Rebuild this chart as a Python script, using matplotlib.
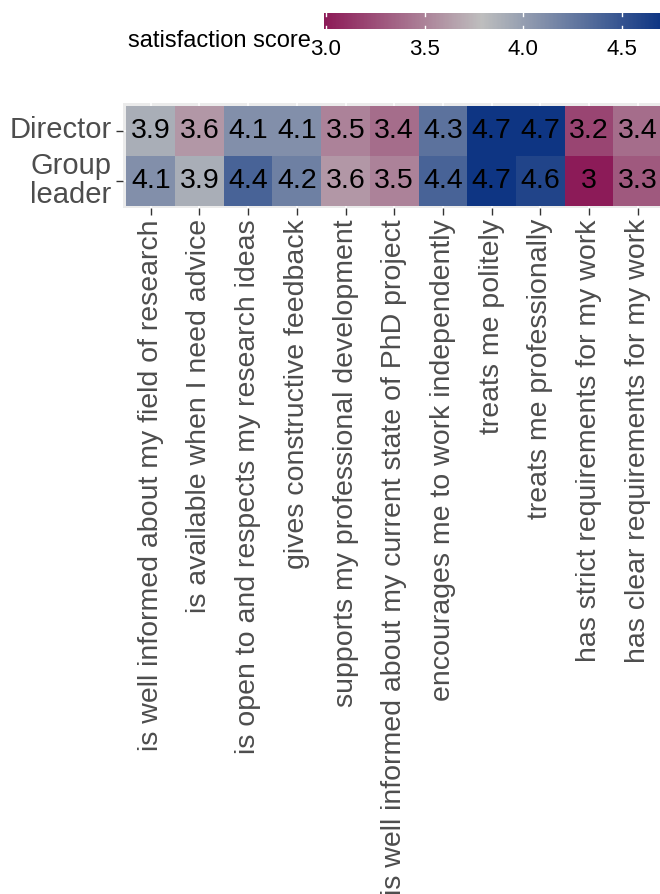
import numpy as np
import matplotlib.pyplot as plt
from matplotlib.colors import LinearSegmentedColormap, Normalize

plt.rcParams['font.family'] = ['Liberation Sans', 'DejaVu Sans']

statements = [
    "is well informed about my field of research",
    "is available when I need advice",
    "is open to and respects my research ideas",
    "gives constructive feedback",
    "supports my professional development",
    "is well informed about my current state of PhD project",
    "encourages me to work independently",
    "treats me politely",
    "treats me professionally",
    "has strict requirements for my work",
    "has clear requirements for my work",
]
roles = ["Director", "Group\nleader"]
director = [3.9, 3.6, 4.1, 4.1, 3.5, 3.4, 4.3, 4.7, 4.7, 3.2, 3.4]
group_leader = [4.1, 3.9, 4.4, 4.2, 3.6, 3.5, 4.4, 4.7, 4.6, 3.0, 3.3]
cbar_ticks = [3.0, 3.5, 4.0, 4.5]

vmin, vmid, vmax = 2.99, 3.79, 4.72
low, mid, high = "#8C1A57", "#BEBEBE", "#0B3382"

scores = np.array([director, group_leader])
f = (vmid - vmin) / (vmax - vmin)
cmap = LinearSegmentedColormap.from_list("sat", [(0, low), (f, mid), (1, high)])
norm = Normalize(vmin=vmin, vmax=vmax)

W, H = 660, 894
fig = plt.figure(figsize=(W / 100, H / 100), dpi=100)

# main panel, in pixel measures
px_l, px_r, px_t, px_b = 122.5, 666, 103, 208
ax = fig.add_axes([px_l / W, 1 - px_b / H, (px_r - px_l) / W, (px_b - px_t) / H])
ax.set_facecolor("#EBEBEB")
ax.set_axisbelow(True)
ax.grid(color="white", linewidth=1.1)

mesh = ax.pcolormesh(np.arange(len(statements) + 1) - 0.5, np.arange(len(roles) + 1) - 0.5,
                     scores, cmap=cmap, norm=norm, zorder=1)

for i in range(scores.shape[0]):
    for j in range(scores.shape[1]):
        ax.text(j, i, f"{scores[i, j]:g}", ha="center", va="center", fontsize=20.5,
                color="black", zorder=3)

ax.set_xlim(-0.58, len(statements) - 0.42)
ax.set_ylim(len(roles) - 0.45, -0.55)
ax.set_xticks(range(len(statements)))
ax.set_xticklabels(statements, rotation=90, ha="center", va="top", fontsize=20.5)
ax.set_yticks(range(len(roles)))
ax.set_yticklabels(roles, linespacing=1.08, fontsize=21, va="center")
ax.tick_params(length=5, width=1, color="#333333", labelcolor="#4D4D4D", pad=3)
for s in ax.spines.values():
    s.set_visible(False)

# colourbar legend on top (runs past the right edge like the reference)
unit = 197.0
cb_l = 326 - (3.0 - vmin) * unit
cax = fig.add_axes([cb_l / W, 1 - 29 / H, (vmax - vmin) * unit / W, 16 / H])
cb = fig.colorbar(mesh, cax=cax, orientation="horizontal", ticks=cbar_ticks)
cb.outline.set_visible(False)
cax.tick_params(length=0, labelsize=16, pad=7, labelcolor="black")
cax.set_xticklabels([f"{t:.1f}" for t in cbar_ticks])
for t in cbar_ticks:
    cax.plot([t, t], [0, 0.2], color="white", lw=1, transform=cax.get_xaxis_transform())
    cax.plot([t, t], [0.8, 1], color="white", lw=1, transform=cax.get_xaxis_transform())

fig.text(311 / W, 1 - 41 / H, "satisfaction score", ha="right", va="center", fontsize=17)

fig.savefig("out.png", dpi=100)
